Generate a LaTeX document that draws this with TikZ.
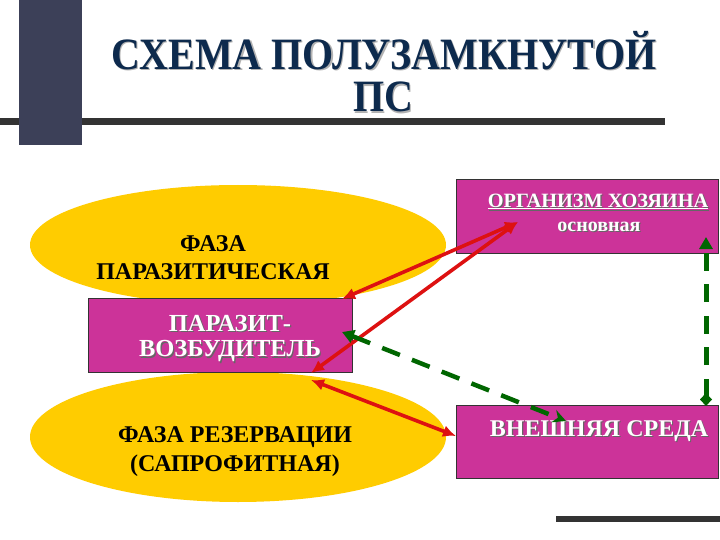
\documentclass[tikz,border=0pt]{standalone}
\usepackage{fontspec}
\setmainfont{Liberation Serif}[BoldFont={Liberation Serif Bold}]
\usetikzlibrary{shapes.geometric,arrows.meta}
\definecolor{gold}{HTML}{FFCC00}
\definecolor{mag}{HTML}{CC3399}
\definecolor{redl}{HTML}{DD1111}
\definecolor{grn}{HTML}{006600}
\definecolor{navy}{HTML}{0D2A4D}
\definecolor{barc}{HTML}{3C4058}
\definecolor{rulec}{HTML}{333333}
\newcommand{\shd}[4]{\leavevmode\rlap{\kern#3\raisebox{-#3}{\textcolor{#2}{#4}}}\textcolor{#1}{#4}}
\tikzset{
  phase/.style={ellipse, fill=gold, inner sep=0pt, minimum width=416pt},
  boxm/.style={rectangle, fill=mag, draw=black!80, line width=0.8pt, inner sep=0pt},
  blk/.style={text=black, font=\rmfamily\fontsize{24}{28}\selectfont\bfseries, inner sep=0pt},
  wht/.style={text=white, font=\rmfamily\fontsize{24.5}{28}\selectfont\bfseries, inner sep=0pt},
  ttl/.style={font=\rmfamily\fontsize{40}{44}\selectfont\bfseries, yscale=1.12, inner sep=0pt},
  redarr/.style={draw=redl, line width=3.6pt, {Latex[length=13pt,width=12pt]}-{Latex[length=13pt,width=12pt]}},
  grnarr/.style={draw=grn, line width=4.5pt, dash pattern=on 19pt off 13pt},
}
\begin{document}
\begin{tikzpicture}[x=1pt,y=-1pt]
\fill[white] (0,0) rectangle (720,540);
\useasboundingbox (0,0) rectangle (720,540);
% decorations
\fill[rulec] (0,118) rectangle (665,125);
\fill[barc] (19,0) rectangle (82,145);
\fill[rulec] (556,516) rectangle (720,522);
% title
\node[ttl] (t1) at (384,51) {\shd{navy}{black!30}{1.2pt}{СХЕМА ПОЛУЗАМКНУТОЙ}};
\node[ttl] (t2) at (383,98) {\shd{navy}{black!30}{1.2pt}{ПС}};
% ellipses
\node[phase, minimum height=120pt] (ph1) at (238,245) {};
\node[phase, minimum height=130pt] (ph2) at (238,437) {};
% boxes
\node[boxm, minimum width=264pt, minimum height=74pt] (par) at (220,335) {};
\node[boxm, minimum width=262pt, minimum height=74pt] (host) at (587,216) {};
\node[boxm, minimum width=262pt, minimum height=73pt] (env) at (587,442) {};
% texts
\node[blk] (l1) at (213,244) {ФАЗА};
\node[blk] (l2) at (213,272) {ПАРАЗИТИЧЕСКАЯ};
\node[blk] (l3) at (235,437) {ФАЗА РЕЗЕРВАЦИИ};
\node[blk] (l4) at (235,466) {(САПРОФИТНАЯ)};
\node[wht] (w1) at (230,324) {\shd{white}{black!60}{1.2pt}{ПАРАЗИТ-}};
\node[wht] (w2) at (230,352) {\shd{white}{black!60}{1.2pt}{ВОЗБУДИТЕЛЬ}};
\node[wht, font=\rmfamily\fontsize{20.3}{23}\selectfont\bfseries] (h1) at (598,202) {\shd{white}{black!60}{1.2pt}{\underline{ОРГАНИЗМ ХОЗЯИНА}}};
\node[wht, font=\rmfamily\fontsize{20}{23}\selectfont\bfseries] (h2) at (599,227) {\shd{white}{black!60}{1.2pt}{основная}};
\node[wht, font=\rmfamily\fontsize{24}{28}\selectfont\bfseries] (e1) at (599,432) {\shd{white}{black!60}{1.2pt}{ВНЕШНЯЯ СРЕДА}};
% connector ends
\coordinate (pA) at (342,299);
\coordinate (hA) at (518,222);
\coordinate (pB) at (311,373);
\coordinate (pC) at (311,380);
\coordinate (eC) at (456,436);
\coordinate (pG) at (342,332);
\coordinate (eG) at (566,421);
\coordinate (eV) at (706,406);
\coordinate (hV) at (706,237);
% red connectors
\draw[redarr] (pA) -- (hA);
\draw[redarr] (pB) -- (hA);
\draw[redarr] (pC) -- (eC);
% green connectors
\draw[grnarr, {Triangle[length=12pt,width=13pt]}-{Stealth[length=13pt,width=13pt]}] (pG) -- (eG);
\draw[grnarr, line width=5pt, dash pattern=on 18pt off 13.5pt, {Diamond[length=13pt,width=12pt]}-{Triangle[length=12pt,width=13pt]}] (eV) -- (hV);
\end{tikzpicture}
\end{document}
